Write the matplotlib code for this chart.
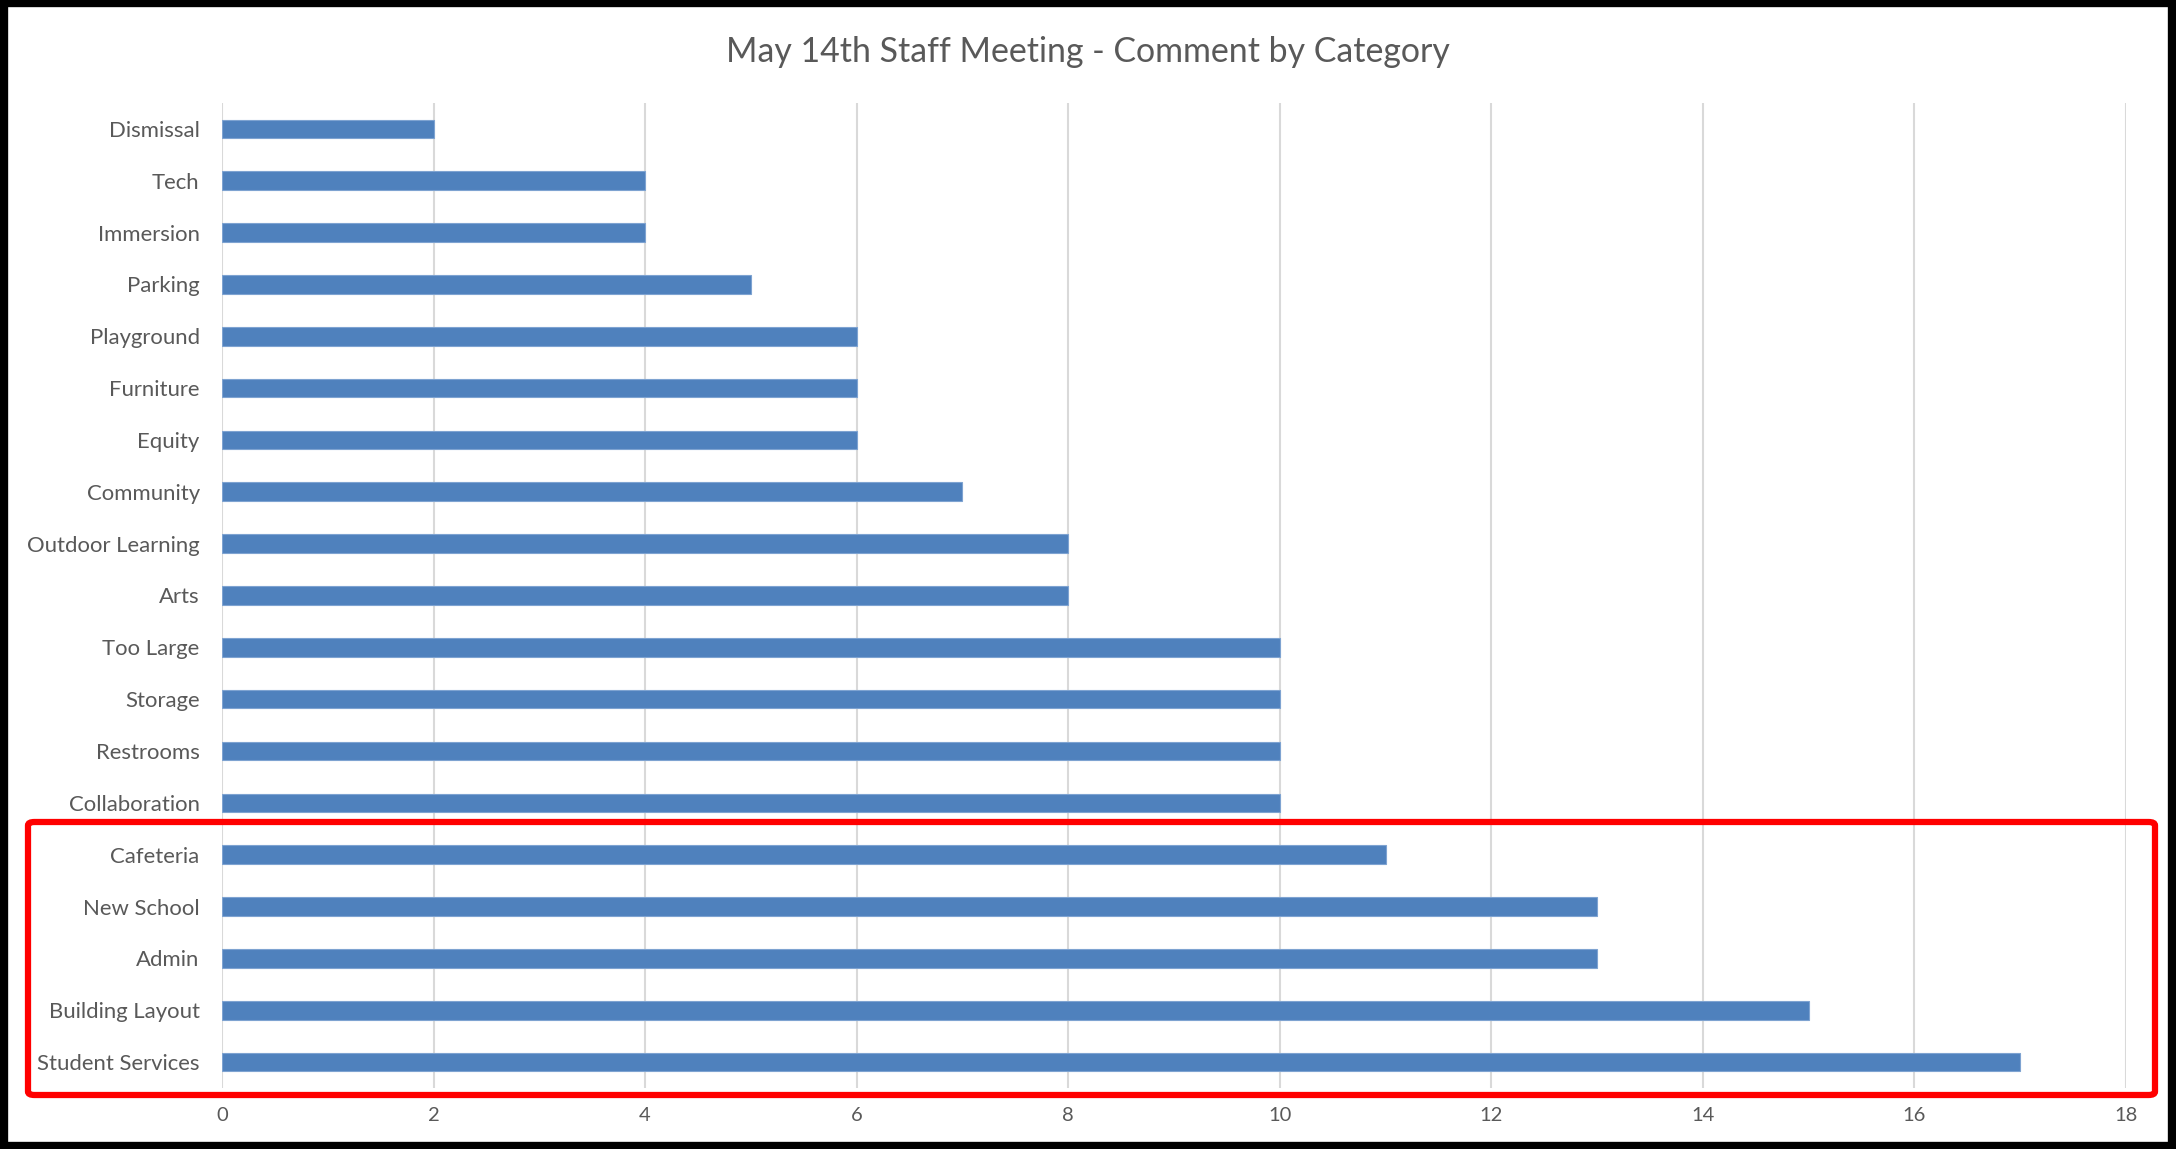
import matplotlib
matplotlib.use("Agg")
import matplotlib.pyplot as plt
from matplotlib.patches import Rectangle, FancyBboxPatch

# data, top to bottom as in the chart
categories = ["Dismissal", "Tech", "Immersion", "Parking", "Playground", "Furniture",
              "Equity", "Community", "Outdoor Learning", "Arts", "Too Large", "Storage",
              "Restrooms", "Collaboration", "Cafeteria", "New School", "Admin",
              "Building Layout", "Student Services"]
counts = [2, 4, 4, 5, 6, 6, 6, 7, 8, 8, 10, 10, 10, 10, 11, 13, 13, 15, 17]
x_ticks = [0, 2, 4, 6, 8, 10, 12, 14, 16, 18]

plt.rcParams['font.family'] = ['Lato', 'DejaVu Sans']
text_color = "#595959"

fig = plt.figure(figsize=(21.76, 11.49), dpi=100)
ax = fig.add_axes([0.1020, 0.0531, 0.8750, 0.8573])

ypos = list(range(len(categories)))
ax.barh(ypos, counts, height=0.36, color="#4f81bd", edgecolor="#7ea3d1", linewidth=0.8, zorder=3)
ax.set_yticks(ypos)
ax.set_yticklabels(categories, fontsize=15.9, color=text_color)
ax.set_ylim(len(categories) - 0.5, -0.5)

ax.set_xlim(0, 18)
ax.set_xticks(x_ticks)
ax.set_xticklabels([str(t) for t in x_ticks], fontsize=14.5, color=text_color)
ax.tick_params(axis="both", length=0)
ax.tick_params(axis="x", pad=14)
ax.tick_params(axis="y", pad=16)
ax.grid(axis="x", color="#d9d9d9", linewidth=1.5, zorder=0)
for s in ax.spines.values():
    s.set_visible(False)

fig.text(0.5, 0.955, "May 14th Staff Meeting - Comment by Category", ha="center", va="center",
         fontsize=24.4, color=text_color)

# red highlight box around the top five
red = FancyBboxPatch((28 / 2176, 1 - 1095 / 1149), (2155 - 28) / 2176, (1095 - 822) / 1149,
                     boxstyle="round,pad=0,rounding_size=0.003", transform=fig.transFigure,
                     fill=False, edgecolor="#ff0000", linewidth=4.5, zorder=10)
fig.patches.append(red)

# black frame round the whole chart
frame = Rectangle((0.002, 0.003), 0.996, 0.994, transform=fig.transFigure,
                  fill=False, edgecolor="black", linewidth=6, zorder=10)
fig.patches.append(frame)

fig.savefig("out.png", dpi=100)
